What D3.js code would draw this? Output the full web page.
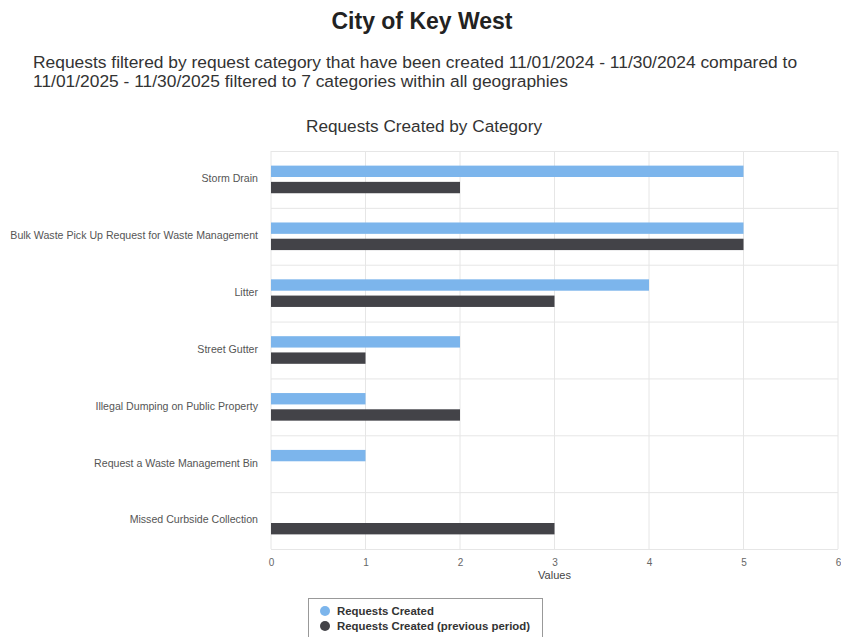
<!DOCTYPE html>
<html>
<head>
<meta charset="utf-8">
<script src="https://cdn.jsdelivr.net/npm/d3@7"></script>
<style>
  body { margin: 0; background: #fff; }
  svg { font-family: "Liberation Sans", Arial, sans-serif; }
</style>
</head>
<body>
<div id="chart"></div>
<script>
const categories = [
  "Storm Drain",
  "Bulk Waste Pick Up Request for Waste Management",
  "Litter",
  "Street Gutter",
  "Illegal Dumping on Public Property",
  "Request a Waste Management Bin",
  "Missed Curbside Collection"
];
const current = [5, 5, 4, 2, 1, 1, 0];
const previous = [2, 5, 3, 1, 2, 0, 3];
const xTicks = [0, 1, 2, 3, 4, 5, 6];
const seriesNames = ["Requests Created", "Requests Created (previous period)"];
const colors = ["#7cb5ec", "#434348"];

const width = 841, height = 637;
const margin = { top: 151, right: 3, bottom: 88, left: 271 };

const svg = d3.select("#chart").append("svg")
  .attr("width", width).attr("height", height);

svg.append("text")
  .attr("x", 422).attr("y", 29)
  .attr("text-anchor", "middle")
  .style("font-size", "23px").style("font-weight", "bold").style("fill", "#222")
  .text("City of Key West");

const subtitle = svg.append("text")
  .style("font-size", "17.4px").style("fill", "#333");
subtitle.append("tspan").attr("x", 33).attr("y", 68)
  .text("Requests filtered by request category that have been created 11/01/2024 - 11/30/2024 compared to");
subtitle.append("tspan").attr("x", 33).attr("y", 87)
  .text("11/01/2025 - 11/30/2025 filtered to 7 categories within all geographies");

svg.append("text")
  .attr("x", 424).attr("y", 132)
  .attr("text-anchor", "middle")
  .style("font-size", "17.2px").style("fill", "#333")
  .text("Requests Created by Category");

const x = d3.scaleLinear()
  .domain([0, 6])
  .range([margin.left, width - margin.right]);

const y = d3.scaleBand()
  .domain(categories)
  .range([margin.top, height - margin.bottom]);

const inner = d3.scaleBand()
  .domain([0, 1])
  .range([0, y.bandwidth()])
  .paddingInner(0.3)
  .paddingOuter(0.9);

// vertical gridlines
svg.append("g")
  .selectAll("line")
  .data(xTicks)
  .join("line")
  .attr("x1", d => x(d)).attr("x2", d => x(d))
  .attr("y1", margin.top).attr("y2", height - margin.bottom)
  .attr("stroke", "#e6e6e6");

// horizontal band lines
const bandEdges = categories.map(c => y(c)).concat([height - margin.bottom]);
svg.append("g")
  .selectAll("line")
  .data(bandEdges)
  .join("line")
  .attr("x1", margin.left).attr("x2", width - margin.right)
  .attr("y1", d => d + 0.5).attr("y2", d => d + 0.5)
  .attr("stroke", "#e6e6e6");

// bars
const rows = categories.map((c, i) => ({ cat: c, vals: [current[i], previous[i]] }));
const groups = svg.append("g")
  .selectAll("g")
  .data(rows)
  .join("g")
  .attr("transform", d => `translate(0,${y(d.cat)})`);

groups.selectAll("rect")
  .data(d => d.vals.map((v, k) => ({ v, k })).filter(e => e.v > 0))
  .join("rect")
  .attr("x", x(0))
  .attr("y", d => inner(d.k))
  .attr("width", d => x(d.v) - x(0))
  .attr("height", inner.bandwidth())
  .attr("fill", d => colors[d.k]);

// category labels
svg.append("g")
  .selectAll("text")
  .data(categories)
  .join("text")
  .attr("x", 258)
  .attr("y", d => y(d) + y.bandwidth() / 2)
  .attr("text-anchor", "end")
  .attr("dominant-baseline", "middle")
  .style("font-size", "10.6px").style("fill", "#555")
  .text(d => d);

// x axis
const xAxis = svg.append("g")
  .attr("transform", `translate(0,${height - margin.bottom})`)
  .call(d3.axisBottom(x).tickValues(xTicks).tickFormat(d3.format("d")).tickSize(0).tickPadding(10));
xAxis.select(".domain").remove();
xAxis.selectAll("text").style("font-size", "10px").style("fill", "#666")
  .style("font-family", "Liberation Sans, Arial, sans-serif");

svg.append("text")
  .attr("x", x(3)).attr("y", 579)
  .attr("text-anchor", "middle")
  .style("font-size", "11px").style("fill", "#444")
  .text("Values");

// legend
const legend = svg.append("g").attr("transform", "translate(308,598)");
legend.append("rect")
  .attr("x", 0.5).attr("y", 0.5)
  .attr("width", 234).attr("height", 45)
  .attr("fill", "#fff").attr("stroke", "#999");
const items = legend.selectAll("g.item")
  .data(seriesNames)
  .join("g")
  .attr("class", "item")
  .attr("transform", (d, i) => `translate(17,${13 + i * 15})`);
items.append("circle").attr("r", 5).attr("fill", (d, i) => colors[i]);
items.append("text")
  .attr("x", 12).attr("dy", "0.35em")
  .style("font-size", "11.4px").style("font-weight", "bold").style("fill", "#333")
  .text(d => d);
</script>
</body>
</html>
